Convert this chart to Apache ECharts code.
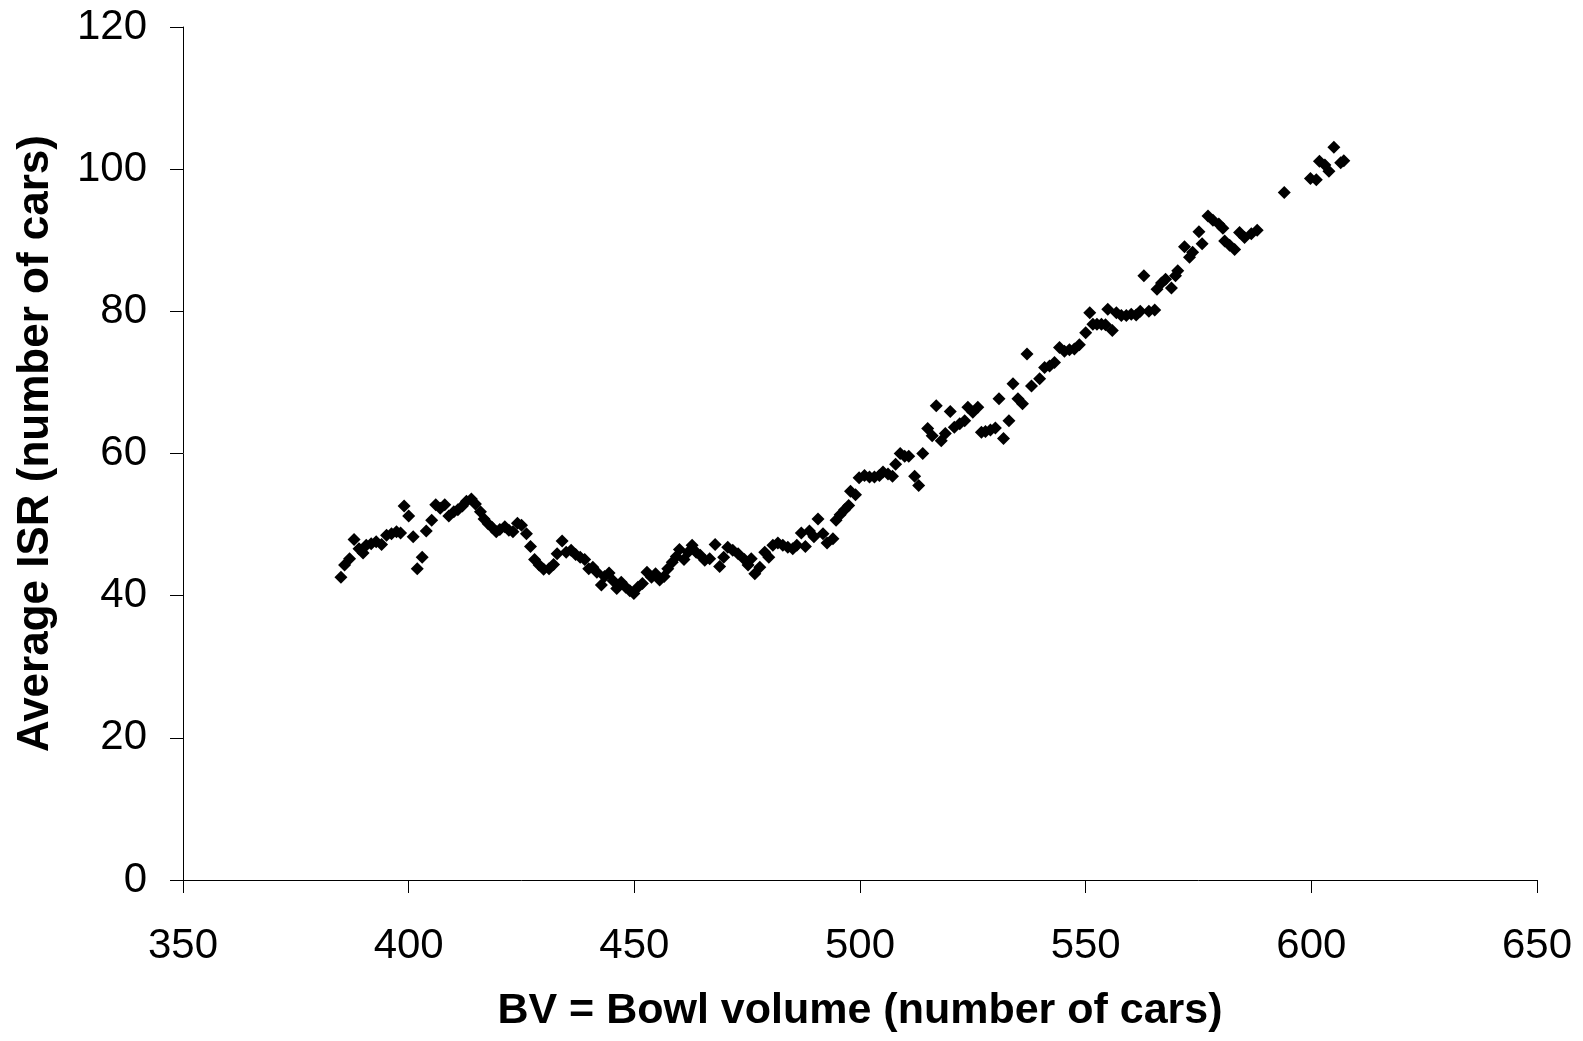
<!DOCTYPE html>
<html>
<head>
<meta charset="utf-8">
<script src="https://cdn.jsdelivr.net/npm/echarts@6/dist/echarts.min.js"></script>
<style>
  html, body { margin: 0; padding: 0; background: #fff; }
  #chart { width: 1583px; height: 1041px; }
</style>
</head>
<body>
<div id="chart"></div>
<script>
// bowl volume (x) and average ISR (y)
var bowlVolume = [
    385.0, 385.8, 386.9, 387.9, 389.0, 389.9, 390.6, 391.7, 392.8, 394.0,
    395.1, 396.2, 397.3, 398.2, 399.0, 400.0, 401.0, 401.9, 403.0, 403.9,
    405.1, 406.0, 407.0, 408.0, 408.9, 410.0, 410.9, 411.9, 412.8, 413.9,
    414.8, 415.9, 416.7, 417.6, 418.5, 419.4, 420.2, 421.3, 422.2, 423.1,
    424.1, 425.0, 426.1, 427.0, 427.9, 428.9, 429.9, 431.1, 432.1, 432.9,
    434.0, 434.9, 436.0, 437.0, 438.0, 439.0, 439.9, 440.8, 441.7, 442.7,
    443.4, 444.4, 445.3, 446.1, 447.1, 448.1, 449.0, 449.9, 450.8, 451.8,
    452.8, 453.8, 454.7, 455.6, 456.6, 457.4, 458.4, 459.3, 460.0, 461.0,
    461.9, 462.8, 463.7, 464.6, 465.6, 466.7, 467.9, 468.9, 469.8, 470.7,
    471.8, 473.0, 474.4, 475.2, 475.9, 476.7, 477.8, 478.9, 479.8, 480.7,
    481.8, 482.9, 484.0, 485.1, 486.0, 487.0, 487.9, 488.8, 489.8, 490.7,
    491.8, 492.7, 494.0, 494.7, 495.6, 496.6, 497.5, 497.9, 499.0, 499.8,
    501.0, 502.1, 503.2, 504.3, 505.1, 506.2, 507.2, 507.9, 508.9, 509.9,
    510.8, 512.1, 513.0, 513.9, 515.0, 516.0, 516.9, 518.0, 518.9, 520.0,
    520.9, 522.1, 523.2, 523.9, 525.0, 526.1, 526.9, 527.8, 528.9, 530.0,
    530.8, 531.8, 533.0, 533.9, 535.0, 536.0, 537.0, 538.0, 539.8, 540.9,
    542.0, 543.1, 544.2, 545.3, 546.4, 547.5, 548.6, 550.0, 550.9, 551.6,
    552.5, 553.5, 554.4, 554.9, 555.9, 556.8, 557.9, 559.0, 560.1, 561.2,
    562.1, 562.9, 564.0, 565.3, 565.8, 566.8, 567.7, 569.0, 569.9, 570.4,
    571.9, 573.0, 573.7, 575.1, 575.8, 577.1, 578.2, 579.5, 580.4, 580.8,
    581.9, 583.0, 584.1, 585.2, 586.7, 588.0, 594.0, 599.8, 601.1, 601.8,
    603.0, 603.9, 605.0, 606.5, 607.2
];
var avgIsr = [
    42.6, 44.3, 45.2, 47.9, 46.6, 46.0, 47.1, 47.3, 47.6, 47.2,
    48.5, 48.7, 49.0, 48.8, 52.6, 51.2, 48.3, 43.8, 45.4, 49.1,
    50.6, 52.8, 52.3, 52.8, 51.2, 51.8, 52.1, 52.6, 53.3, 53.6,
    52.9, 51.8, 50.8, 50.1, 49.6, 49.0, 49.3, 49.7, 49.2, 49.0,
    50.2, 49.9, 48.7, 46.9, 45.1, 44.3, 43.7, 43.8, 44.4, 45.9,
    47.7, 46.1, 46.4, 45.8, 45.4, 45.1, 43.8, 44.0, 43.3, 41.5,
    42.7, 43.2, 42.1, 41.0, 41.9, 41.2, 40.7, 40.3, 41.2, 41.7,
    43.3, 42.6, 43.1, 42.2, 42.7, 43.8, 44.7, 45.5, 46.5, 45.1,
    46.1, 47.1, 46.1, 45.7, 45.0, 45.2, 47.2, 44.1, 45.4, 46.8,
    46.4, 45.9, 45.1, 44.3, 45.2, 43.1, 44.0, 46.1, 45.4, 47.1,
    47.4, 47.1, 46.8, 46.6, 47.1, 48.8, 46.9, 49.1, 48.3, 50.8,
    48.7, 47.4, 48.0, 50.6, 51.4, 52.1, 52.7, 54.7, 54.2, 56.6,
    56.9, 56.7, 56.7, 56.9, 57.4, 57.1, 56.8, 58.5, 60.0, 59.6,
    59.6, 56.8, 55.5, 60.0, 63.5, 62.5, 66.7, 61.8, 62.8, 65.9,
    63.7, 64.2, 64.6, 66.5, 65.8, 66.5, 63.0, 63.1, 63.3, 63.6,
    67.7, 62.1, 64.6, 69.8, 67.7, 67.0, 74.0, 69.5, 70.5, 72.1,
    72.3, 72.8, 74.9, 74.4, 74.6, 74.7, 75.3, 77.0, 79.8, 78.2,
    78.2, 78.2, 78.1, 80.3, 77.3, 79.8, 79.4, 79.4, 79.6, 79.5,
    80.0, 85.0, 80.0, 80.2, 83.1, 84.0, 84.5, 83.3, 85.0, 85.7,
    89.1, 87.6, 88.3, 91.2, 89.5, 93.4, 92.8, 92.3, 91.7, 89.9,
    89.3, 88.7, 91.1, 90.4, 90.9, 91.4, 96.7, 98.7, 98.5, 101.1,
    100.6, 99.7, 103.1, 100.9, 101.2
];

var points = bowlVolume.map(function (bv, i) { return [bv, avgIsr[i]]; });

var font = '"Liberation Sans", Arial, sans-serif';

var option = {
    animation: false,
    backgroundColor: '#fff',
    grid: {
        left: 183,
        right: 46,
        top: 27,
        bottom: 161,
        outerBoundsMode: 'none'
    },
    xAxis: {
        type: 'value',
        min: 350,
        max: 650,
        interval: 50,
        name: 'BV = Bowl volume (number of cars)',
        nameLocation: 'middle',
        nameGap: 110,
        nameTextStyle: { fontFamily: font, fontSize: 43, fontWeight: 'bold', color: '#000' },
        axisLine: { onZero: false, lineStyle: { color: '#000', width: 1 } },
        axisTick: { length: 13, lineStyle: { color: '#000' } },
        axisLabel: { margin: 45, fontFamily: font, fontSize: 42, color: '#000' },
        splitLine: { show: false }
    },
    yAxis: {
        type: 'value',
        min: 0,
        max: 120,
        interval: 20,
        name: 'Average ISR (number of cars)',
        nameLocation: 'middle',
        nameGap: 125,
        nameTextStyle: { fontFamily: font, fontSize: 44, fontWeight: 'bold', color: '#000', padding: [0, 0, 0, 20] },
        axisLine: { show: true, onZero: false, lineStyle: { color: '#000', width: 1 } },
        axisTick: { show: true, length: 13, lineStyle: { color: '#000' } },
        axisLabel: { margin: 36, fontFamily: font, fontSize: 42, color: '#000' },
        splitLine: { show: false }
    },
    series: [
        {
            name: 'Average ISR',
            type: 'scatter',
            symbol: 'diamond',
            symbolSize: 13,
            itemStyle: { color: '#000', opacity: 1 },
            data: points
        }
    ]
};

var chart = echarts.init(document.getElementById('chart'));
chart.setOption(option);
</script>
</body>
</html>
